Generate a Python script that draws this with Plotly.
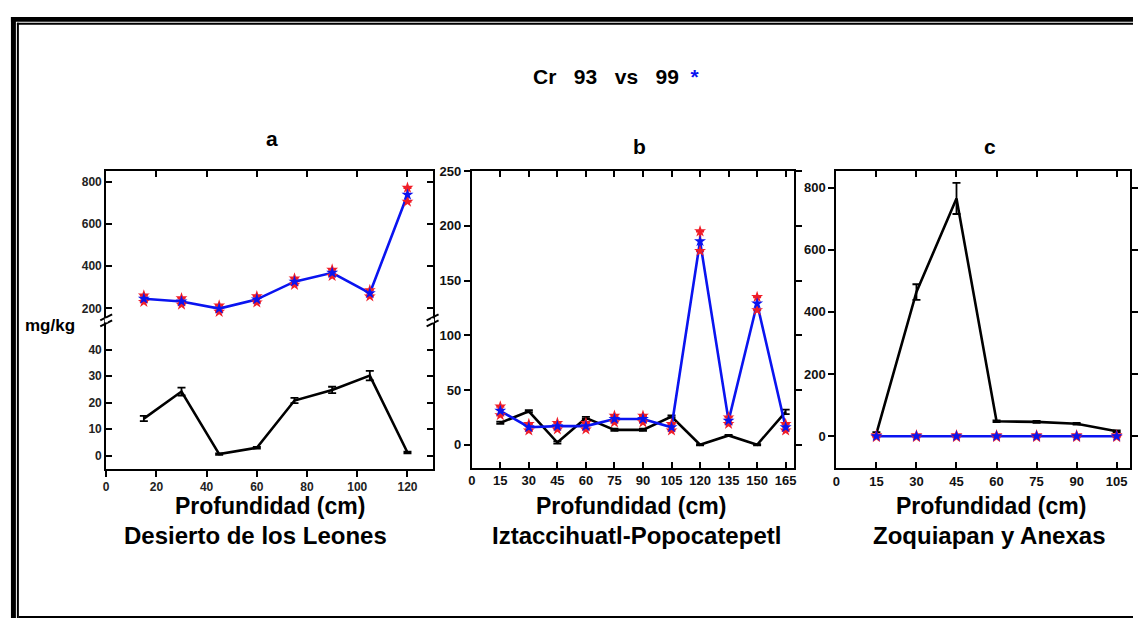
import plotly.graph_objects as go

W, H = 1138, 618

# ---- data: Cr (mg/kg) by depth, survey 93 (black) vs 99 (blue) ----
depth_a = [15, 30, 45, 60, 75, 90, 105, 120]
cr93_a = [14, 24.2, 0.6, 3.0, 20.8, 24.8, 30.2, 1.2]
cr93_a_err = [1.0, 1.5, 0.3, 0.3, 1.0, 1.2, 1.8, 0.3]
cr99_a = [246, 233, 199, 243, 327, 369, 272, 740]
cr99_a_err = [15, 15, 15, 15, 15, 15, 15, 33]

depth_b = [15, 30, 45, 60, 75, 90, 105, 120, 135, 150, 165]
cr93_b = [20, 30.5, 2, 24.5, 13.6, 13.6, 25.7, 0, 8.5, 0, 30]
cr93_b_err = [1, 1, 1, 1, 1, 1, 1, 0.5, 0.5, 0.5, 2]
cr99_b = [31, 16, 17, 17, 23.5, 23.5, 16, 186, 22, 129, 16]
cr99_b_err = [4, 3, 3, 3, 3, 3, 3, 9, 3, 6, 3]

depth_c = [15, 30, 45, 60, 75, 90, 105]
cr93_c = [8, 464, 765, 48, 46, 40, 16]
cr93_c_err = [5, 25, 50, 3, 3, 3, 3]
cr99_c = [0, 0, 0, 0, 0, 0, 0]
cr99_c_err = [3, 3, 3, 3, 3, 3, 3]

ticks_a_x = [0, 20, 40, 60, 80, 100, 120]
ticks_x_b = [0, 15, 30, 45, 60, 75, 90, 105, 120, 135, 150, 165]
ticks_x_c = [0, 15, 30, 45, 60, 75, 90, 105]

title = "Cr   93   vs   99  "
panel_names = ["a", "b", "c"]
site_names = ["Desierto de los Leones", "Iztaccihuatl-Popocatepetl", "Zoquiapan y Anexas"]
xlabel = "Profundidad (cm)"
ylabel = "mg/kg"

BLUE = "#0a14f0"
RED = "#f01e28"
BLACK = "#000000"
FONT = "Liberation Sans, Arial, sans-serif"


def px(x):
    return x / W


def py(y):
    return 1 - y / H


fig = go.Figure()


def add_black(x, y, err, xa, ya):
    fig.add_trace(go.Scatter(
        x=x, y=y, mode="lines", xaxis=xa, yaxis=ya,
        line=dict(color=BLACK, width=2.6),
        error_y=dict(type="data", array=err, color=BLACK, thickness=1.8, width=4),
        showlegend=False, hoverinfo="skip"))


def add_blue(x, y, err, xa, ya):
    # line with red error bars
    fig.add_trace(go.Scatter(
        x=x, y=y, mode="lines", xaxis=xa, yaxis=ya,
        line=dict(color=BLUE, width=2.6),
        error_y=dict(type="data", array=err, color=RED, thickness=2.4, width=4),
        showlegend=False, hoverinfo="skip"))
    # red star tips at the ends of each error bar
    ends_x = list(x) + list(x)
    ends_y = [v + e for v, e in zip(y, err)] + [v - e for v, e in zip(y, err)]
    fig.add_trace(go.Scatter(
        x=ends_x, y=ends_y, mode="markers", xaxis=xa, yaxis=ya,
        marker=dict(symbol="star", size=9, color=RED, line=dict(width=0)),
        showlegend=False, hoverinfo="skip"))
    fig.add_trace(go.Scatter(
        x=x, y=y, mode="markers", xaxis=xa, yaxis=ya,
        marker=dict(symbol="star", size=9, color=BLUE, line=dict(width=0)),
        showlegend=False, hoverinfo="skip"))


# panel a: broken y axis (lower 0-50, upper 150-850)
add_black(depth_a, cr93_a, cr93_a_err, "x", "y")
add_blue(depth_a, cr99_a, cr99_a_err, "x2", "y2")
# panel b
add_black(depth_b, cr93_b, cr93_b_err, "x3", "y3")
add_blue(depth_b, cr99_b, cr99_b_err, "x3", "y3")
# panel c
add_black(depth_c, cr93_c, cr93_c_err, "x4", "y4")
add_blue(depth_c, cr99_c, cr99_c_err, "x4", "y4")

axis_common = dict(showgrid=False, zeroline=False, showline=True, linecolor=BLACK,
                   linewidth=2, tickcolor=BLACK, tickwidth=2, ticklen=6)

a_dom = [px(103), px(432)]
b_dom = [px(471.5), px(796.5)]
c_dom = [px(839), px(1135)]

tickfont_a = dict(family=FONT, size=12, color="#222", weight="bold")
tickfont_bc = dict(family=FONT, size=13, color="#111", weight="bold")

fig.update_layout(
    width=W, height=H, margin=dict(l=0, r=0, t=0, b=0),
    paper_bgcolor="white", plot_bgcolor="white",
    xaxis=dict(**axis_common, domain=a_dom, range=[0, 130], anchor="y",
               tickvals=ticks_a_x, ticks="outside", tickfont=tickfont_a),
    yaxis=dict(**axis_common, domain=[py(467), py(317)], range=[-4.9, 51],
               tickvals=[0, 10, 20, 30, 40], ticks="inside", mirror="ticks",
               tickfont=tickfont_a, anchor="x"),
    xaxis2=dict(**axis_common, domain=a_dom, range=[0, 130], anchor="y2", side="top",
                matches="x", tickvals=ticks_a_x[1:], ticks="inside", showticklabels=False),
    yaxis2=dict(**axis_common, domain=[py(317), py(166)], range=[143, 852],
                tickvals=[200, 400, 600, 800], ticks="inside", mirror="ticks",
                tickfont=tickfont_a, anchor="x2"),
    xaxis3=dict(**axis_common, domain=b_dom, range=[0, 169.5], anchor="y3",
                tickvals=ticks_x_b, ticks="inside", mirror="ticks", tickfont=tickfont_bc),
    yaxis3=dict(**axis_common, domain=[py(466), py(166)], range=[-21, 250],
                tickvals=[0, 50, 100, 150, 200, 250], ticks="outside", mirror="ticks",
                tickfont=tickfont_bc, anchor="x3"),
    xaxis4=dict(**axis_common, domain=c_dom, range=[0, 110], anchor="y4",
                tickvals=ticks_x_c, ticks="inside", mirror="ticks", tickfont=tickfont_bc),
    yaxis4=dict(**axis_common, domain=[py(466.5), py(166)], range=[-103, 853],
                tickvals=[0, 200, 400, 600, 800], ticks="outside", mirror="ticks",
                tickfont=tickfont_bc, anchor="x4"),
)

ann = []


def text(x, y, s, size, color=BLACK):
    ann.append(dict(x=px(x), y=py(y), xref="paper", yref="paper", text=s, showarrow=False,
                    xanchor="center", yanchor="middle",
                    font=dict(family=FONT, size=size, color=color, weight="bold")))


text(617, 70, title + "<span style='color:%s'>*</span>" % BLUE, 21)
for name, cx, cy in zip(panel_names, [270, 641, 994], [133, 141, 141]):
    text(cx, cy, name, 21)
for site, cx_lab, cx_site in zip(site_names, [268, 632, 995], [254, 638, 993]):
    text(cx_lab, 505, xlabel, 23)
    text(cx_site, 535, site, 24)
text(46, 322, ylabel, 17)
fig.update_layout(annotations=ann)

shapes = []


def rect(x0, y0, x1, y1):
    shapes.append(dict(type="rect", xref="paper", yref="paper", x0=px(x0), x1=px(x1),
                       y0=py(y1), y1=py(y0), fillcolor=BLACK, line=dict(width=0), layer="above"))


# double frame
rect(7, 10, 12, 618)
rect(7, 10, 1138, 15)
rect(13, 16, 15, 618)
rect(13, 16, 1138, 18)
rect(15, 616, 1138, 618)

# axis-break marks on panel a
for bx in [103, 432]:
    for dy in [-3, 3]:
        shapes.append(dict(type="line", xref="paper", yref="paper",
                           x0=px(bx - 6), x1=px(bx + 6), y0=py(317 + dy + 3), y1=py(317 + dy - 3),
                           line=dict(color=BLACK, width=2), layer="above"))
    shapes.append(dict(type="rect", xref="paper", yref="paper",
                       x0=px(bx - 1.5), x1=px(bx + 1.5), y0=py(319), y1=py(315),
                       fillcolor="white", line=dict(width=0), layer="above"))
fig.update_layout(shapes=shapes)

fig.write_html("out.html")
